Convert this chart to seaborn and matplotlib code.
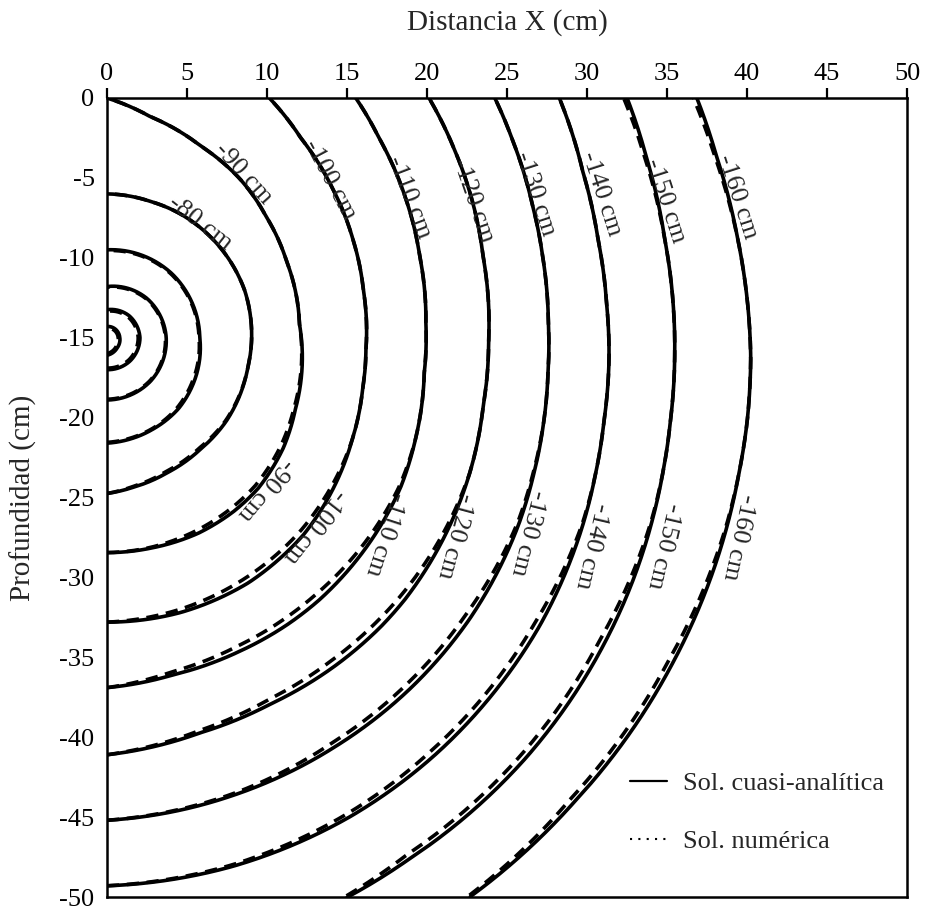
import numpy as np
import pandas as pd
import matplotlib
matplotlib.use('Agg')
import matplotlib.pyplot as plt
from matplotlib.lines import Line2D
import seaborn as sns

# Punto fuente de las curvas (cm)
centro_x, centro_y = 0.0, -15.0

# Curvas de igual potencial; las cuatro interiores no llevan rotulo
curvas = ['c1', 'c2', 'c3', 'c4', '-80', '-90', '-100', '-110', '-120',
          '-130', '-140', '-150', '-160']

angulos = [
    [90, 45, 0, -45, -90],
    [90, 45, 0, -45, -90],
    [90, 45, 0, -45, -90],
    [90, 45, 0, -27, -45, -63, -90],
    [90, 72, 60, 19, 0, -12, -35, -50, -66, -80, -90],
    [90, 79, 64, 50, 37, 23, 4, -21, -32, -45, -54, -65, -78, -90],
    [55.8, 45.8, 33.3, 21.6, 10.6, -2.7, -11.5, -22.6, -36.5, -45, -60, -75, -90],
    [43.9, 36.3, 25, 14.6, 2.6, -6.3, -18.3, -27, -51, -58, -67, -79, -90],
    [36.7, 28.5, 21, 12.2, -0.7, -10.4, -20.5, -41.3, -46.6, -55.5, -66, -76.7, -90],
    [31.7, 26, 17.2, 10.6, 1.9, -4.6, -11, -17.7, -24.2, -38, -49, -61, -74.5, -90],
    [27.9, 19.2, 11.3, 3.7, -2.2, -9.7, -15.6, -21.2, -33.7, -41.8, -52, -63, -76.6, -90],
    [24.8, 18.5, 10, 3.2, -1.9, -8.6, -13.6, -18.7, -31.6, -45, -60, -66.8],
    [22.2, 16.6, 9, 2.9, -1.7, -7.4, -12.2, -16.6, -30, -45, -57],
]

# Distancia al punto fuente (cm), solucion cuasi-analitica
radio_cuasi = [
    [0.7, 0.75, 0.8, 0.9, 1.1],
    [1.75, 1.95, 2.06, 2.05, 2.0],
    [3.2, 3.5, 3.7, 3.85, 3.9],
    [5.5, 5.7, 5.8, 6.1, 6.3, 6.4, 6.6],
    [9.0, 8.95, 9.0, 9.1, 9.04, 9.0, 9.1, 9.1, 9.25, 9.5, 9.75],
    [15.0, 14.1, 13.35, 12.95, 12.5, 12.2, 12.06, 12.6, 13.0, 13.35, 13.45, 13.5, 13.45, 13.45],
    [18.1, 17.4, 16.9, 16.55, 16.3, 16.2, 16.3, 16.6, 17.1, 17.4, 17.7, 17.8, 17.8],
    [21.6, 21.1, 20.6, 20.2, 19.95, 19.95, 20.3, 20.6, 21.1, 21.2, 21.3, 21.5, 21.9],
    [25.1, 24.7, 24.4, 24.05, 23.85, 23.9, 24.2, 24.8, 24.9, 25.0, 25.1, 25.4, 26.1],
    [28.5, 28.2, 27.85, 27.7, 27.6, 27.65, 27.8, 28.0, 28.25, 28.7, 29.0, 29.3, 29.7, 30.2],
    [32.0, 31.5, 31.3, 31.3, 31.4, 31.5, 31.7, 31.95, 32.5, 32.8, 33.2, 33.6, 34.0, 34.3],
    [35.8, 35.55, 35.4, 35.45, 35.5, 35.6, 35.75, 35.95, 36.5, 37.1, 37.7, 38.1],
    [39.8, 39.75, 39.9, 40.1, 40.25, 40.35, 40.4, 40.5, 40.8, 41.2, 41.7],
]

# Distancia al punto fuente (cm), solucion numerica
radio_numerica = [
    [0.6, 0.65, 0.7, 0.8, 1.0],
    [1.65, 1.85, 1.95, 1.95, 1.9],
    [3.15, 3.45, 3.65, 3.8, 3.85],
    [5.45, 5.65, 5.75, 6.0, 6.2, 6.35, 6.55],
    [9.0, 8.95, 9.0, 9.1, 9.04, 9.0, 9.05, 9.0, 9.15, 9.45, 9.75],
    [15.0, 14.1, 13.35, 12.95, 12.5, 12.2, 12.06, 12.5, 12.8, 13.1, 13.2, 13.3, 13.4, 13.45],
    [18.1, 17.4, 16.9, 16.55, 16.3, 16.2, 16.3, 16.6, 16.9, 17.1, 17.35, 17.6, 17.8],
    [21.6, 21.1, 20.6, 20.2, 19.95, 19.95, 20.3, 20.5, 20.7, 20.8, 20.95, 21.3, 21.9],
    [25.1, 24.7, 24.4, 24.05, 23.85, 23.9, 24.2, 24.45, 24.5, 24.6, 24.8, 25.25, 26.1],
    [28.5, 28.2, 27.85, 27.7, 27.6, 27.65, 27.8, 27.95, 28.15, 28.35, 28.65, 29.0, 29.6, 30.2],
    [32.0, 31.5, 31.3, 31.3, 31.4, 31.5, 31.7, 31.9, 32.15, 32.45, 32.85, 33.35, 33.9, 34.3],
    [35.6, 35.45, 35.4, 35.45, 35.5, 35.6, 35.75, 35.9, 36.15, 36.75, 37.4, 38.0],
    [39.6, 39.65, 39.9, 40.1, 40.25, 40.35, 40.4, 40.45, 40.5, 40.9, 41.6],
]

# Rotulos de las curvas (parte superior e inferior)
rotulos = ['-80 cm', '-90 cm', '-100 cm', '-110 cm', '-120 cm', '-130 cm',
           '-140 cm', '-150 cm', '-160 cm']
sup_x = [5.8, 8.5, 13.9, 18.9, 22.9, 26.75, 30.9, 34.9, 39.4]
sup_y = [-7.8, -4.7, -5.1, -6.2, -6.4, -6.0, -6.0, -6.4, -6.2]
sup_rot = [-38, -48, -62, -69, -71, -72, -72, -72, -72]
inf_rotulos = rotulos[1:]
inf_x = [9.9, 13.0, 17.4, 21.8, 26.3, 30.3, 34.8, 39.5]
inf_y = [-24.5, -26.8, -27.3, -27.4, -27.2, -28.0, -28.0, -27.5]
inf_rot = [230, 232, 252, 255, 256, 257, 257, 258]

# Tabla de puntos para seaborn
filas = []
for i, nombre in enumerate(curvas):
    for sol, radios in (('cuasi', radio_cuasi[i]), ('numerica', radio_numerica[i])):
        a = np.array(angulos[i], dtype=float)[::-1]
        r = np.array(radios, dtype=float)[::-1]
        fino = np.linspace(a[0], a[-1], 300)
        rf = np.interp(fino, a, r)
        t = np.radians(fino)
        for xx, yy in zip(centro_x + rf * np.cos(t), centro_y + rf * np.sin(t)):
            filas.append({'x': xx, 'y': yy, 'curva': nombre + sol, 'solucion': sol})
datos = pd.DataFrame(filas)

sns.set_style('white')
plt.rcParams['font.family'] = ['Liberation Serif', 'DejaVu Serif']
plt.rcParams['axes.unicode_minus'] = False

fig = plt.figure(figsize=(9.27, 9.11), dpi=100)
ax = fig.add_axes([107 / 927, 1 - 897 / 911, 800 / 927, 799 / 911])

sns.lineplot(data=datos, x='x', y='y', units='curva', style='solucion',
             estimator=None, sort=False, color='black', linewidth=2.6,
             dashes={'cuasi': '', 'numerica': (3.4, 2.1)}, legend=False, ax=ax)

for txt, xx, yy, rr in zip(rotulos, sup_x, sup_y, sup_rot):
    ax.text(xx, yy, txt, rotation=rr, rotation_mode='anchor', ha='center',
            va='center', fontsize=19)
for txt, xx, yy, rr in zip(inf_rotulos, inf_x, inf_y, inf_rot):
    ax.text(xx, yy, txt, rotation=rr, rotation_mode='anchor', ha='center',
            va='center', fontsize=19)

ax.set_xlim(0, 50)
ax.set_ylim(-50, 0)
ax.set_xticks(np.arange(0, 51, 5))
ax.set_yticks(np.arange(-50, 1, 5))
ax.xaxis.tick_top()
ax.xaxis.set_label_position('top')
ax.tick_params(axis='both', direction='out', length=7, width=1.6, pad=2,
               labelsize=19, colors='black')
ax.set_xlabel('Distancia X (cm)', fontsize=21, labelpad=24)
ax.set_ylabel('Profundidad (cm)', fontsize=21, labelpad=16)
for s in ax.spines.values():
    s.set_linewidth(1.8)
    s.set_color('black')

manejadores = [Line2D([], [], color='black', lw=1.6, ls='-'),
               Line2D([], [], color='black', lw=1.5, ls=(0, (1, 3)))]
ax.legend(manejadores, ['Sol. cuasi-analítica', 'Sol. numérica'],
          loc='center left', bbox_to_anchor=(0.654, 0.106), frameon=False,
          fontsize=19, handlelength=1.4, handletextpad=0.6, labelspacing=1.3,
          borderpad=0, borderaxespad=0)

fig.savefig('out.png', dpi=100)
